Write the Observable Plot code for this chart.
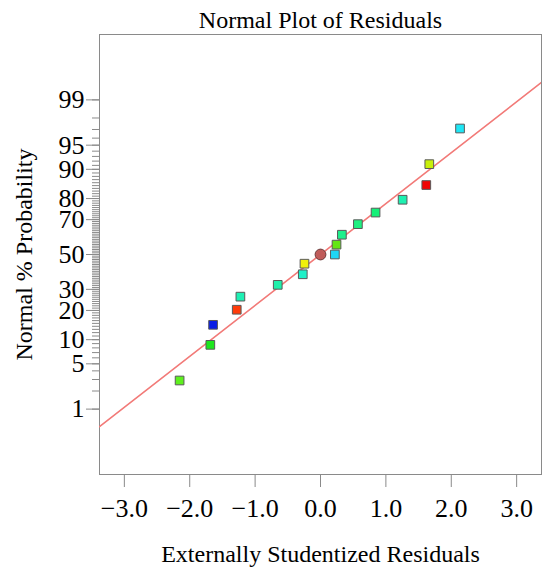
<!DOCTYPE html>
<html>
<head>
<meta charset="utf-8">
<script src="https://cdn.jsdelivr.net/npm/d3@7"></script>
<script src="https://cdn.jsdelivr.net/npm/@observablehq/plot@0.6"></script>
<style>
  html, body { margin: 0; padding: 0; background: #fff; }
  #chart svg { display: block; }
</style>
</head>
<body>
<div id="chart"></div>
<script>
// ---- data ----
const residuals   = [-2.155, -1.685, -1.643, -1.281, -1.225, -0.654, -0.271, -0.245, 0.22, 0.245, 0.327, 0.572, 0.842, 1.256, 1.618, 1.664, 2.134];
const probability = [2.9, 8.7, 14.5, 20.3, 26.3, 32.4, 38.3, 44.5, 50.0, 55.9, 61.7, 67.6, 73.6, 79.5, 85.2, 91.3, 97.1];
const pointColors = ["#5ef01e", "#1ee61e", "#0a1ee6", "#ff3c0a", "#1ef0b4", "#1ef0aa", "#1ef0c8", "#f0f00a", "#1ed7f5",
                     "#64e614", "#1ef08c", "#1ef080", "#14f078", "#1ef0b0", "#f00505", "#c8f00a", "#1ee6f5"];
const circleResidual = [0.0];
const circleProbability = [50.0];
const lineResidual = [-3.38, 3.38];
const lineProbability = [0.48, 99.52];
const xTicks = [-3, -2, -1, 0, 1, 2, 3];
const yMajorTicks = [1, 5, 10, 20, 30, 50, 70, 80, 90, 95, 99];
const yMinorTicks = d3.range(1, 100);

// inverse standard normal CDF (Acklam)
function probit(p) {
  const a=[-3.969683028665376e+01,2.209460984245205e+02,-2.759285104469687e+02,1.383577518672690e+02,-3.066479806614716e+01,2.506628277459239e+00];
  const b=[-5.447609879822406e+01,1.615858368580409e+02,-1.556989798598866e+02,6.680131188771972e+01,-1.328068155288572e+01];
  const c=[-7.784894002430293e-03,-3.223964580411365e-01,-2.400758277161838e+00,-2.549671010029010e+00,4.374664141464968e+00,2.938163982698783e+00];
  const d=[7.784695709041462e-03,3.224671290700398e-01,2.445134137142996e+00,3.754408661907416e+00];
  const pl=0.02425, ph=1-pl; let q, r;
  if (p < pl) { q=Math.sqrt(-2*Math.log(p)); return (((((c[0]*q+c[1])*q+c[2])*q+c[3])*q+c[4])*q+c[5])/((((d[0]*q+d[1])*q+d[2])*q+d[3])*q+1); }
  if (p <= ph) { q=p-0.5; r=q*q; return (((((a[0]*r+a[1])*r+a[2])*r+a[3])*r+a[4])*r+a[5])*q/(((((b[0]*r+b[1])*r+b[2])*r+b[3])*r+b[4])*r+1); }
  q=Math.sqrt(-2*Math.log(1-p)); return -(((((c[0]*q+c[1])*q+c[2])*q+c[3])*q+c[4])*q+c[5])/((((d[0]*q+d[1])*q+d[2])*q+d[3])*q+1);
}
const z = p => probit(p / 100);

const points = residuals.map((r, i) => ({x: r, y: z(probability[i]), c: pointColors[i]}));
const circles = circleResidual.map((r, i) => ({x: r, y: z(circleProbability[i])}));
const line = lineResidual.map((r, i) => ({x: r, y: z(lineProbability[i])}));
const majorZ = yMajorTicks.map(z);
const majorLabel = new Map(majorZ.map((v, i) => [v, String(yMajorTicks[i])]));
const minorZ = yMinorTicks.map(z);

const gray = "#8a8a8a";
const chart = Plot.plot({
  width: 550,
  height: 584,
  marginLeft: 99,
  marginRight: 9,
  marginTop: 34,
  marginBottom: 110,
  style: {fontFamily: "'Liberation Serif', 'Times New Roman', serif", background: "#fff", color: "#000"},
  x: {domain: [-3.38, 3.38]},
  y: {domain: [-3.31, 3.31]},
  marks: [
    Plot.frame({stroke: gray}),
    Plot.axisX({ticks: xTicks, tickSize: 13, tickPadding: 11, stroke: gray, fill: "#000", fontSize: 26,
                tickFormat: d3.format(".1f"), label: null}),
    Plot.axisY({ticks: minorZ, tickSize: 7, stroke: gray, tickFormat: () => "", label: null}),
    Plot.axisY({ticks: majorZ, tickSize: 13, tickPadding: 2, stroke: gray, fill: "#000", fontSize: 26,
                tickFormat: d => majorLabel.get(d), label: null}),
    Plot.line(line, {x: "x", y: "y", stroke: "#f27a78", strokeWidth: 1.6, clip: true}),
    Plot.dot(points, {x: "x", y: "y", symbol: "square", r: 4.9, fill: "c", stroke: "#5a5a5a", strokeWidth: 1}),
    Plot.dot(circles, {x: "x", y: "y", r: 5.4, fill: "#c05c5a", stroke: "#6a3a3a", strokeWidth: 1}),
    Plot.text(["Normal Plot of Residuals"], {frameAnchor: "top", dy: -14, lineAnchor: "middle", fontSize: 24, fill: "#000"}),
    Plot.text(["Externally Studentized Residuals"], {frameAnchor: "bottom", dy: 80, lineAnchor: "middle", fontSize: 24, fill: "#000"}),
    Plot.text(["Normal % Probability"], {frameAnchor: "left", dx: -75, rotate: -90, textAnchor: "middle", lineAnchor: "middle", fontSize: 24, fill: "#000"})
  ]
});
document.getElementById("chart").append(chart);
</script>
</body>
</html>
